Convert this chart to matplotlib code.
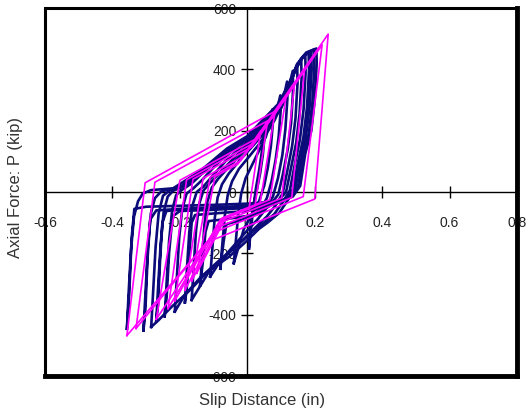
import matplotlib
matplotlib.use("Agg")
import matplotlib.pyplot as plt
from matplotlib.patches import Rectangle

plt.rcParams['font.family'] = ['Liberation Sans', 'DejaVu Sans']

x_ticks = [-0.6, -0.4, -0.2, 0, 0.2, 0.4, 0.6, 0.8]
x_tick_labels = ['-0.6', '-0.4', '-0.2', '0', '0.2', '0.4', '0.6', '0.8']
y_ticks = [-600, -400, -200, 0, 200, 400, 600]
y_tick_labels = ['-600', '-400', '-200', '0', '200', '400', '600']

# test data (blue) - one list of (slip, force) points per cycle
blue_loops = [
    [(-0.357, -446), (-0.352, -330), (-0.345, -190), (-0.336, -80), (-0.324, -30), (-0.310, -5),
     (-0.286, 6), (-0.220, 12), (-0.140, 68), (-0.060, 142), (0.000, 182), (0.040, 228),
     (0.090, 285), (0.120, 345), (0.150, 420), (0.175, 455), (0.205, 468), (0.206, 420),
     (0.200, 300), (0.190, 200), (0.172, 125), (0.157, 20), (0.135, -15), (0.100, -30),
     (0.000, -38), (-0.100, -42), (-0.200, -45), (-0.300, -48), (-0.335, -55), (-0.343, -150),
     (-0.350, -330), (-0.357, -446)],
    [(-0.308, -452), (-0.302, -330), (-0.295, -180), (-0.286, -70), (-0.274, -20), (-0.255, 2),
     (-0.200, 16), (-0.130, 72), (-0.055, 140), (0.005, 180), (0.045, 222), (0.090, 278),
     (0.118, 335), (0.145, 408), (0.172, 450), (0.198, 465), (0.199, 410), (0.193, 290),
     (0.182, 190), (0.165, 110), (0.150, 15), (0.128, -18), (0.090, -35), (0.000, -45),
     (-0.100, -50), (-0.200, -55), (-0.270, -60), (-0.288, -90), (-0.296, -220),
     (-0.302, -380), (-0.308, -452)],
    [(-0.285, -440), (-0.279, -320), (-0.272, -180), (-0.263, -70), (-0.250, -12), (-0.230, 5),
     (-0.190, 20), (-0.120, 78), (-0.050, 140), (0.010, 182), (0.050, 220), (0.092, 275),
     (0.118, 330), (0.142, 400), (0.168, 445), (0.190, 460), (0.191, 400), (0.185, 280),
     (0.174, 180), (0.158, 100), (0.142, 10), (0.118, -30), (0.095, -68), (0.060, -100),
     (0.035, -120), (-0.010, -168), (-0.055, -212), (-0.120, -262), (-0.170, -320),
     (-0.225, -375), (-0.265, -420), (-0.285, -440)],
    [(-0.270, -420), (-0.264, -300), (-0.257, -170), (-0.248, -65), (-0.236, -15), (-0.220, 4),
     (-0.180, 22), (-0.115, 80), (-0.045, 142), (0.012, 184), (0.052, 221), (0.092, 272),
     (0.118, 328), (0.141, 396), (0.165, 442), (0.186, 458), (0.187, 398), (0.181, 278),
     (0.170, 178), (0.154, 98), (0.139, 9), (0.116, -20), (0.085, -38), (0.000, -48),
     (-0.100, -54), (-0.200, -58), (-0.240, -62), (-0.252, -100), (-0.259, -230),
     (-0.265, -370), (-0.270, -420)],
    [(-0.245, -405), (-0.239, -290), (-0.232, -160), (-0.223, -60), (-0.211, -10), (-0.195, 6),
     (-0.165, 28), (-0.110, 85), (-0.040, 145), (0.015, 185), (0.055, 222), (0.093, 270),
     (0.118, 325), (0.140, 392), (0.162, 438), (0.182, 455), (0.183, 395), (0.177, 275),
     (0.166, 175), (0.150, 95), (0.135, 8), (0.112, -22), (0.080, -40), (0.000, -52),
     (-0.100, -58), (-0.200, -62), (-0.222, -80), (-0.232, -200), (-0.239, -340),
     (-0.245, -405)],
    [(-0.215, -390), (-0.209, -280), (-0.202, -150), (-0.193, -55), (-0.180, -5), (-0.160, 12),
     (-0.135, 38), (-0.090, 92), (-0.030, 148), (0.020, 188), (0.060, 224), (0.095, 268),
     (0.118, 320), (0.138, 385), (0.156, 428), (0.172, 448), (0.173, 390), (0.167, 270),
     (0.156, 170), (0.141, 90), (0.126, 5), (0.104, -35), (0.080, -72), (0.050, -100),
     (0.015, -130), (-0.035, -180), (-0.085, -225), (-0.140, -280), (-0.185, -335),
     (-0.215, -390)],
    [(-0.185, -360), (-0.179, -250), (-0.172, -130), (-0.163, -45), (-0.150, 0), (-0.130, 18),
     (-0.105, 50), (-0.065, 100), (-0.015, 150), (0.030, 190), (0.068, 228), (0.098, 268),
     (0.118, 315), (0.135, 375), (0.148, 415), (0.160, 435), (0.161, 370), (0.155, 255),
     (0.145, 160), (0.130, 80), (0.115, 0), (0.092, -28), (0.060, -50), (0.000, -62),
     (-0.100, -70), (-0.155, -75), (-0.165, -100), (-0.173, -220), (-0.180, -320),
     (-0.185, -360)],
    [(-0.165, -352), (-0.159, -245), (-0.152, -125), (-0.143, -40), (-0.130, 5), (-0.110, 30),
     (-0.080, 65), (-0.040, 110), (0.000, 155), (0.040, 195), (0.075, 235), (0.100, 275),
     (0.118, 320), (0.132, 370), (0.148, 418), (0.149, 355), (0.143, 240), (0.133, 150),
     (0.119, 70), (0.105, -5), (0.083, -45), (0.058, -80), (0.025, -115), (-0.015, -158),
     (-0.065, -210), (-0.115, -262), (-0.165, -352)],
    [(-0.140, -305), (-0.134, -215), (-0.127, -105), (-0.118, -30), (-0.105, 15), (-0.085, 45),
     (-0.052, 85), (-0.012, 130), (0.030, 178), (0.065, 220), (0.092, 262), (0.112, 305),
     (0.125, 350), (0.135, 395), (0.136, 335), (0.130, 225), (0.120, 140), (0.106, 60),
     (0.092, -8), (0.070, -40), (0.040, -65), (0.000, -78), (-0.060, -88), (-0.115, -95),
     (-0.124, -130), (-0.132, -230), (-0.140, -305)],
    [(-0.110, -276), (-0.104, -190), (-0.097, -90), (-0.088, -18), (-0.075, 25), (-0.055, 60),
     (-0.025, 100), (0.012, 145), (0.050, 192), (0.080, 232), (0.100, 280), (0.110, 320),
     (0.118, 360), (0.119, 305), (0.113, 205), (0.104, 120), (0.091, 45), (0.076, -15),
     (0.055, -55), (0.030, -90), (0.000, -125), (-0.040, -175), (-0.080, -225), (-0.110, -276)],
    [(-0.080, -250), (-0.074, -170), (-0.067, -80), (-0.058, -10), (-0.045, 35), (-0.025, 75),
     (0.005, 115), (0.038, 160), (0.065, 205), (0.085, 255), (0.098, 315), (0.099, 265),
     (0.093, 180), (0.084, 105), (0.072, 35), (0.058, -20), (0.040, -55), (0.015, -80),
     (-0.030, -95), (-0.062, -105), (-0.070, -160), (-0.080, -250)],
    [(-0.040, -232), (-0.034, -160), (-0.027, -75), (-0.018, -5), (-0.005, 45), (0.015, 90),
     (0.035, 135), (0.055, 180), (0.067, 225), (0.075, 270), (0.076, 225), (0.070, 150),
     (0.061, 80), (0.050, 20), (0.035, -30), (0.015, -70), (-0.010, -120), (-0.040, -232)],
    [(0.005, -184), (0.011, -120), (0.018, -50), (0.026, 15), (0.035, 70), (0.043, 130),
     (0.048, 180), (0.050, 225), (0.051, 180), (0.046, 120), (0.038, 60), (0.028, 5),
     (0.018, -45), (0.010, -100), (0.005, -184)],
]

# model (magenta) - multilinear cycles
magenta_loops = [
    [(-0.357, -468), (-0.303, 30), (0.080, 262), (0.240, 515), (0.200, -23), (-0.120, -164), (-0.357, -468)],
    [(-0.330, -445), (-0.274, 32), (0.072, 239), (0.222, 480), (0.166, -15), (-0.095, -130), (-0.330, -445)],
    [(-0.270, -415), (-0.200, 38), (0.030, 176), (0.170, 400), (0.132, -18), (-0.090, -116), (-0.270, -415)],
    [(-0.235, -380), (-0.180, 40), (0.022, 161), (0.140, 350), (0.102, -20), (-0.085, -102), (-0.235, -380)],
    [(-0.215, -355), (-0.161, 42), (0.013, 146), (0.115, 310), (0.067, -25), (-0.080, -90), (-0.215, -355)],
    [(-0.185, -320), (-0.131, 45), (-0.009, 118), (0.083, 265), (0.038, -35), (-0.075, -85), (-0.185, -320)],
    [(-0.165, -290), (-0.110, 48), (-0.020, 102), (0.060, 230), (0.023, -45), (-0.070, -86), (-0.165, -290)],
    [(-0.150, -265), (-0.096, 50), (-0.028, 91), (0.040, 200), (0.005, -55), (-0.065, -86), (-0.150, -265)],
]

fig = plt.figure(figsize=(5.26, 4.09), dpi=100)
ax = fig.add_axes([45 / 526, 33 / 409, 472 / 526, 368 / 409])

for loop in blue_loops:
    xs = [p[0] for p in loop]
    ys = [p[1] for p in loop]
    ax.plot(xs, ys, color='#0b0b7a', lw=1.9, solid_joinstyle='round', zorder=3)

for loop in magenta_loops:
    xs = [p[0] for p in loop]
    ys = [p[1] for p in loop]
    ax.plot(xs, ys, color='#ff00ff', lw=1.2, zorder=4)

ax.set_xlim(-0.6, 0.8)
ax.set_ylim(-600, 600)

ax.spines['left'].set_position(('data', 0))
ax.spines['bottom'].set_position(('data', 0))
ax.spines['top'].set_visible(False)
ax.spines['right'].set_visible(False)
for s in ['left', 'bottom']:
    ax.spines[s].set_linewidth(1.0)
    ax.spines[s].set_zorder(1)
ax.set_axisbelow(True)

ax.set_xticks(x_ticks)
ax.set_xticklabels(x_tick_labels)
ax.set_yticks(y_ticks)
ax.set_yticklabels(y_tick_labels)
ax.tick_params(axis='both', direction='inout', length=8, width=1.0,
               labelsize=10, labelcolor='#222222')
ax.tick_params(axis='x', pad=13)
ax.tick_params(axis='y', pad=4)

# thick chart frame, heavier on the right and bottom
ax.add_patch(Rectangle((0, 0), 1, 1, transform=ax.transAxes, fill=False,
                       lw=2.2, edgecolor='black', clip_on=False, zorder=10))
ax.plot([1, 1], [0, 1], transform=ax.transAxes, color='black', lw=3.5,
        clip_on=False, zorder=10, solid_capstyle='projecting')
ax.plot([0, 1], [0, 0], transform=ax.transAxes, color='black', lw=3.5,
        clip_on=False, zorder=10, solid_capstyle='projecting')

fig.text(262 / 526, 1 - 401 / 409, 'Slip Distance (in)', ha='center', va='center',
         fontsize=12, color='#333333')
fig.text(16 / 526, 1 - 188 / 409, 'Axial Force: P (kip)', ha='center', va='center',
         rotation=90, fontsize=12, color='#333333')

fig.savefig('out.png', dpi=100)
